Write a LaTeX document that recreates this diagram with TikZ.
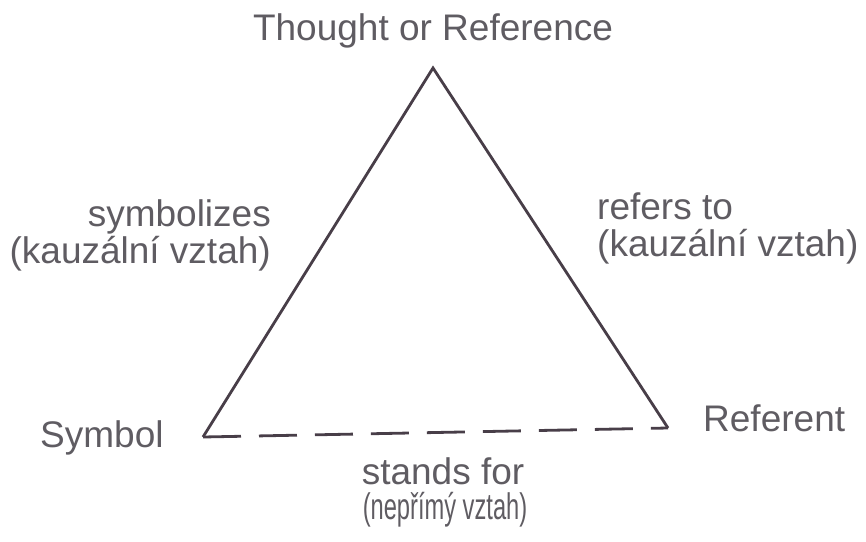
\documentclass[tikz,border=0pt]{standalone}
\usepackage{fontspec}
\setmainfont{Liberation Sans}
\newfontfamily\narrowfont[FakeStretch=0.64]{Liberation Sans}
\definecolor{inkline}{RGB}{72,62,72}
\definecolor{inktext}{RGB}{95,92,98}
\tikzset{
    label text/.style = {
        text = inktext,
        inner sep = 0pt,
        font = \fontsize{37}{37}\selectfont
    },
    side/.style = {
        draw = inkline,
        line width = 2.8pt,
        line join = miter
    }
}
\begin{document}
\begin{tikzpicture}[x=1pt,y=-1pt]
            \useasboundingbox (0,0) rectangle (866,541);
            % corners of the triangle
            \coordinate (top) at (433,68);
            \coordinate (sym) at (203,437);
            \coordinate (ref) at (668,428);
            \draw[side] (sym) -- (top) -- (ref);
            \draw[side, dash pattern = on 38pt off 18pt] (sym) -- (ref);
            % labels
            \node[label text, anchor = base] (thought) at (433,40) {Thought or Reference};
            \node[label text, anchor = base east] (symbolizes) at (271,226) {symbolizes};
            \node[label text, anchor = base east] (symcause) at (271,263) {(kauzální vztah)};
            \node[label text, anchor = base west] (refersto) at (597,219) {refers to};
            \node[label text, anchor = base west] (refcause) at (597,256) {(kauzální vztah)};
            \node[label text, anchor = base west] (symbol) at (40,447) {Symbol};
            \node[label text, anchor = base west] (referent) at (703,431) {Referent};
            \node[label text, anchor = base] (standsfor) at (443,484) {stands for};
            \node[label text, anchor = base, font = \narrowfont\fontsize{37}{37}\selectfont] (indirect) at (445,519) {(nepřímý vztah)};
        \end{tikzpicture}
\end{document}
